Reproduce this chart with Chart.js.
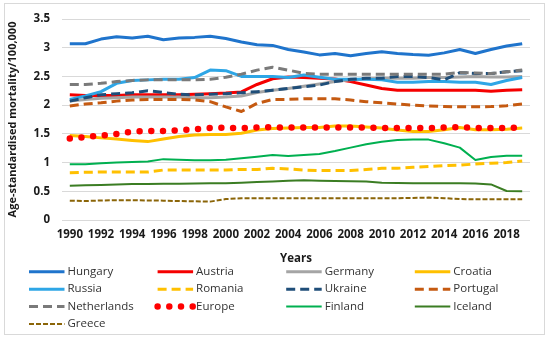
<!DOCTYPE html>
<html>
<head>
<meta charset="utf-8">
<script src="https://cdn.jsdelivr.net/npm/chart.js@4.4.1/dist/chart.umd.min.js"></script>
<style>
  html, body { margin: 0; padding: 0; background: #fff; }
  canvas { display: block; }
</style>
</head>
<body>
<canvas id="c" width="550" height="339"></canvas>
<script>
const years = ['1990','1991','1992','1993','1994','1995','1996','1997','1998','1999','2000','2001','2002','2003','2004','2005','2006','2007','2008','2009','2010','2011','2012','2013','2014','2015','2016','2017','2018','2019'];
const tickLabels = ['1990','1992','1994','1996','1998','2000','2002','2004','2006','2008','2010','2012','2014','2016','2018'];
const yTicks = [0, 0.5, 1, 1.5, 2, 2.5, 3, 3.5];

const hungary     = [3.07,3.07,3.15,3.19,3.17,3.20,3.14,3.17,3.18,3.20,3.16,3.10,3.05,3.04,2.97,2.925,2.875,2.90,2.86,2.90,2.93,2.90,2.88,2.87,2.91,2.97,2.90,2.97,3.03,3.07];
const austria     = [2.18,2.17,2.17,2.17,2.18,2.18,2.18,2.18,2.19,2.20,2.21,2.23,2.36,2.46,2.49,2.48,2.47,2.455,2.41,2.35,2.29,2.26,2.26,2.26,2.26,2.26,2.26,2.24,2.26,2.27];
const germany     = [2.07,2.10,2.12,2.13,2.14,2.14,2.14,2.14,2.13,2.13,2.14,2.16,2.22,2.26,2.29,2.33,2.37,2.41,2.44,2.46,2.47,2.47,2.47,2.48,2.48,2.49,2.50,2.49,2.49,2.50];
const croatia     = [1.47,1.455,1.43,1.41,1.385,1.365,1.41,1.455,1.48,1.49,1.49,1.51,1.567,1.595,1.60,1.61,1.61,1.637,1.637,1.62,1.60,1.567,1.54,1.54,1.57,1.61,1.57,1.57,1.58,1.60];
const russia      = [2.10,2.16,2.235,2.38,2.43,2.44,2.45,2.45,2.48,2.61,2.60,2.50,2.50,2.50,2.48,2.525,2.485,2.45,2.45,2.45,2.44,2.40,2.40,2.41,2.41,2.40,2.40,2.36,2.43,2.48];
const romania     = [0.824,0.83,0.835,0.835,0.835,0.835,0.87,0.87,0.87,0.87,0.87,0.88,0.88,0.90,0.89,0.87,0.86,0.86,0.86,0.88,0.90,0.90,0.917,0.93,0.946,0.955,0.975,0.99,1.0,1.027];
const ukraine     = [2.07,2.13,2.18,2.20,2.215,2.25,2.22,2.19,2.18,2.19,2.20,2.215,2.235,2.26,2.29,2.32,2.35,2.41,2.45,2.467,2.467,2.50,2.50,2.48,2.44,2.565,2.55,2.55,2.58,2.60];
const portugal    = [1.985,2.02,2.04,2.07,2.09,2.10,2.10,2.10,2.09,2.06,1.97,1.89,2.03,2.10,2.10,2.11,2.11,2.11,2.09,2.06,2.04,2.02,2.00,1.985,1.975,1.97,1.97,1.975,1.99,2.02];
const netherlands = [2.36,2.36,2.38,2.41,2.43,2.44,2.44,2.44,2.44,2.45,2.485,2.54,2.61,2.66,2.61,2.555,2.54,2.54,2.54,2.54,2.54,2.54,2.54,2.54,2.54,2.57,2.56,2.55,2.58,2.61];
const europe      = [1.42,1.445,1.47,1.50,1.54,1.55,1.55,1.56,1.58,1.605,1.605,1.60,1.61,1.615,1.61,1.61,1.61,1.61,1.61,1.61,1.60,1.60,1.60,1.60,1.61,1.615,1.605,1.60,1.605,1.61];
const finland     = [0.97,0.97,0.987,1.0,1.01,1.02,1.06,1.05,1.04,1.04,1.05,1.074,1.10,1.13,1.115,1.13,1.15,1.20,1.26,1.318,1.364,1.393,1.40,1.40,1.335,1.26,1.045,1.097,1.12,1.12];
const iceland     = [0.597,0.605,0.61,0.62,0.625,0.625,0.63,0.63,0.635,0.64,0.64,0.65,0.66,0.67,0.685,0.69,0.685,0.68,0.675,0.67,0.65,0.645,0.64,0.64,0.64,0.64,0.635,0.62,0.505,0.50];
const greece      = [0.337,0.33,0.34,0.345,0.345,0.34,0.337,0.33,0.325,0.32,0.365,0.377,0.377,0.377,0.38,0.38,0.38,0.38,0.38,0.38,0.38,0.38,0.385,0.39,0.38,0.365,0.36,0.36,0.36,0.36];

const seriesNames = ['Hungary','Austria','Germany','Croatia','Russia','Romania','Ukraine','Portugal','Netherlands','Europe','Finland','Iceland','Greece'];
const seriesData = [hungary,austria,germany,croatia,russia,romania,ukraine,portugal,netherlands,europe,finland,iceland,greece];
const seriesColors = ['#1f74cc','#f50000','#a5a5a5','#ffc000','#2ea6e6','#ffc000','#1f4e79','#c55a11','#7a7a7a','#ff0000','#00b050','#3b7d23','#8b6508'];
const seriesWidths = [3,3,3,3,3,3,3,3,3,6.5,2,2,2];
const seriesDashes = [[],[],[],[],[],[9,5],[9,5],[9,5],[9,5],[0,11.7],[],[],[5,2]];
const seriesCaps = ['butt','butt','butt','butt','butt','butt','butt','butt','butt','round','butt','butt','butt'];

Chart.defaults.font.family = "'Open Sans', sans-serif";

const datasets = seriesNames.map((name, i) => ({
  label: name,
  data: seriesData[i],
  borderColor: seriesColors[i],
  backgroundColor: seriesColors[i],
  borderWidth: seriesWidths[i],
  borderDash: seriesDashes[i],
  borderCapStyle: seriesCaps[i],
  borderJoinStyle: 'round',
  pointRadius: 0,
  pointHoverRadius: 0,
  tension: 0,
  fill: false,
  order: 100 - i
}));

const decorPlugin = {
  id: 'decor',
  beforeDraw(chart) {
    const ctx = chart.ctx;
    ctx.save();
    ctx.fillStyle = '#ffffff';
    ctx.fillRect(0, 0, chart.width, chart.height);
    ctx.restore();
  },
  afterDraw(chart) {
    const ctx = chart.ctx;
    chart.data.datasets.forEach((ds, i) => {
      const col = i % 4, row = Math.floor(i / 4);
      const x = 29 + col * 128.6;
      const y = 271.7 + row * 17.45;
      ctx.save();
      ctx.strokeStyle = ds.borderColor;
      ctx.lineWidth = ds.borderWidth;
      ctx.setLineDash(ds.borderDash || []);
      ctx.lineCap = ds.borderCapStyle || 'butt';
      ctx.beginPath();
      ctx.moveTo(x, y);
      ctx.lineTo(x + 35.5, y);
      ctx.stroke();
      ctx.setLineDash([]);
      ctx.fillStyle = '#333333';
      ctx.font = "11.5px 'Open Sans', sans-serif";
      ctx.textBaseline = 'middle';
      ctx.textAlign = 'left';
      ctx.fillText(ds.label, x + 38.5, y);
      ctx.restore();
    });
    ctx.save();
    ctx.strokeStyle = '#d9d9d9';
    ctx.lineWidth = 1;
    ctx.strokeRect(4.5, 3.5, 540, 331);
    ctx.restore();
  }
};

new Chart(document.getElementById('c'), {
  type: 'line',
  data: { labels: years, datasets },
  options: {
    responsive: false,
    devicePixelRatio: 1,
    animation: false,
    layout: { padding: { left: 0, right: 20, top: 19, bottom: 73.8 } },
    plugins: { legend: { display: false }, tooltip: { enabled: false } },
    scales: {
      x: {
        type: 'category',
        offset: true,
        grid: { display: false, drawTicks: false },
        border: { display: false },
        ticks: {
          autoSkip: false,
          maxRotation: 0,
          minRotation: 0,
          padding: 8,
          color: '#1a1a1a',
          font: { size: 11.5, weight: 'bold' },
          callback: function(v, i) { return tickLabels.includes(years[i]) ? years[i] : ''; }
        },
        title: { display: true, text: 'Years', color: '#1a1a1a', font: { size: 11.5, weight: 'bold' }, padding: 0 },
        afterFit(s) { s.height = 45.2; }
      },
      y: {
        min: 0,
        max: 3.5,
        afterBuildTicks(s) { s.ticks = yTicks.map(v => ({ value: v })); },
        grid: { color: '#d9d9d9', lineWidth: 1, drawTicks: false },
        border: { display: false },
        ticks: {
          padding: 12,
          color: '#1a1a1a',
          font: { size: 11.5, weight: 'bold' },
          callback: function(v) { return String(v); }
        },
        title: { display: true, text: 'Age-standardised mortality/100,000', color: '#1a1a1a', font: { size: 11, weight: 'bold' }, padding: { top: 6, bottom: 0 } },
        afterFit(s) { s.width = 62; }
      }
    }
  },
  plugins: [decorPlugin]
});
</script>
</body>
</html>
